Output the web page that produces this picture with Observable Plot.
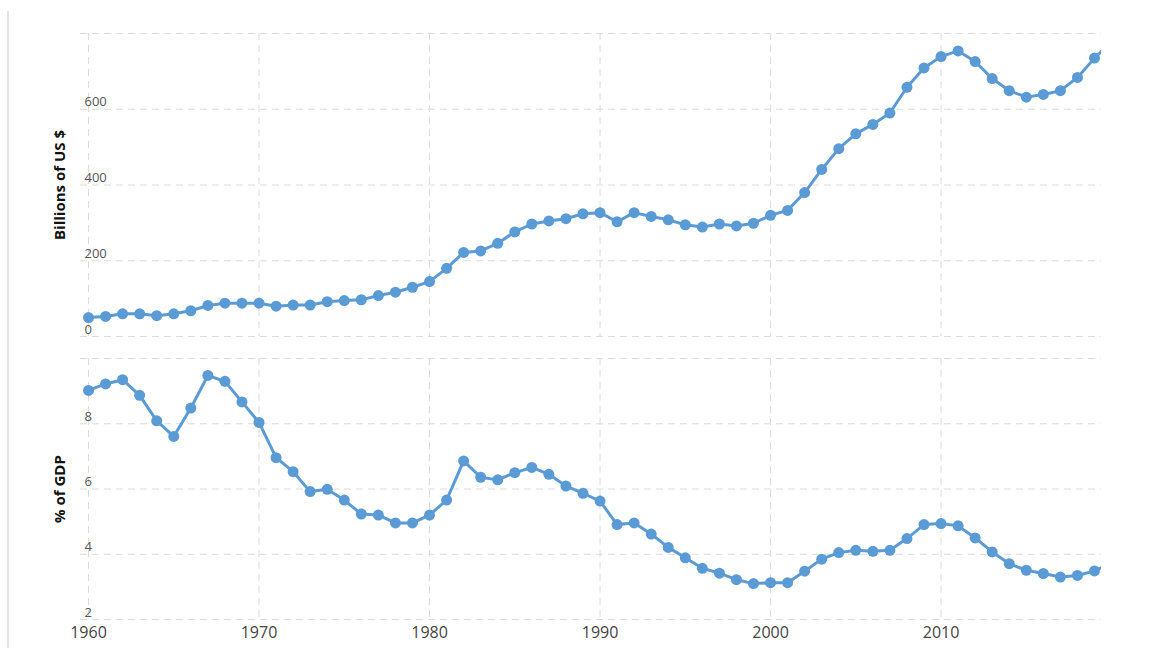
<!DOCTYPE html>
<html>
<head>
<meta charset="utf-8">
<script src="https://cdn.jsdelivr.net/npm/d3@7"></script>
<script src="https://cdn.jsdelivr.net/npm/@observablehq/plot@0.6"></script>
<style>
  html, body { margin: 0; padding: 0; background: #fff; }
  #wrap { position: relative; width: 1151px; height: 648px; overflow: hidden; font-family: "Open Sans", sans-serif; }
  #wrap svg { display: block; }
  #edge { position: absolute; left: 7px; top: 11px; width: 2px; height: 637px; background: #e4e4e4; }
</style>
</head>
<body>
<div id="wrap"><div id="edge"></div></div>
<script>
const years = d3.range(1960, 2021);
const billions = [
  50, 53, 60, 60, 55, 60, 68, 82, 88, 88,
  88, 80, 83, 83, 92, 95, 97, 108, 117, 130,
  145, 180, 222, 226, 246, 276, 297, 305, 311, 324,
  327, 303, 327, 317, 308, 295, 289, 297, 292, 299,
  320, 333, 380, 441, 496, 535, 560, 590, 658, 709,
  739, 754, 726, 681, 649, 632, 639, 649, 684, 735,
  778
];
const pctGdp = [
  9.02, 9.22, 9.35, 8.87, 8.09, 7.61, 8.48, 9.48, 9.30, 8.67,
  8.04, 6.96, 6.53, 5.92, 5.99, 5.66, 5.23, 5.20, 4.96, 4.96,
  5.20, 5.66, 6.86, 6.36, 6.28, 6.50, 6.66, 6.45, 6.09, 5.87,
  5.63, 4.91, 4.96, 4.62, 4.21, 3.89, 3.57, 3.42, 3.22, 3.10,
  3.13, 3.13, 3.48, 3.85, 4.05, 4.12, 4.09, 4.12, 4.48, 4.91,
  4.94, 4.87, 4.50, 4.07, 3.71, 3.51, 3.41, 3.30, 3.35, 3.49,
  3.73
];
const xTicks = [1960, 1970, 1980, 1990, 2000, 2010];
const topGrid = [0, 200, 400, 600, 800];
const topLabels = [0, 200, 400, 600];
const bottomGrid = [2, 4, 6, 8, 10];
const bottomLabels = [2, 4, 6, 8];
const topTitle = "Billions of US $";
const bottomTitle = "% of GDP";

const color = "#5b9bd5";
const gridColor = "#dcdcdc";
const xDomain = [1959.53, 2019.41];
const font = "'Open Sans', sans-serif";

const topData = years.map((y, i) => ({year: y, value: billions[i]}));
const bottomData = years.map((y, i) => ({year: y, value: pctGdp[i]}));

function panel({data, height, marginTop, marginBottom, yDomain, grid, labels, title, labelDy, showX}) {
  const marks = [
    Plot.gridY(grid, {stroke: gridColor, strokeOpacity: 1, strokeWidth: 1, strokeDasharray: "7,5"}),
    Plot.gridX(xTicks, {stroke: gridColor, strokeOpacity: 1, strokeWidth: 1, strokeDasharray: "7,5"}),
    Plot.text(labels, {y: d => d, text: d => String(d), frameAnchor: "left", textAnchor: "start",
      dx: 4, dy: labelDy, fill: "#555", fontSize: 13, fontFamily: font}),
    Plot.text([title], {text: d => d, frameAnchor: "left", textAnchor: "middle", dx: -20, rotate: -90,
      fill: "#111", fontSize: 15, fontWeight: "bold", fontFamily: font}),
    Plot.line(data, {x: "year", y: "value", stroke: color, strokeWidth: 3, clip: true}),
    Plot.dot(data, {x: "year", y: "value", r: 5.5, fill: color, stroke: "none", clip: true})
  ];
  if (showX) {
    marks.push(Plot.text(xTicks, {x: d => d, text: d => String(d), frameAnchor: "bottom", dy: 18,
      fill: "#444", fontSize: 16, fontFamily: font}));
  }
  return Plot.plot({
    width: 1151,
    height,
    marginLeft: 80,
    marginRight: 50,
    marginTop,
    marginBottom,
    style: {fontFamily: font, background: "transparent", overflow: "visible"},
    x: {domain: xDomain, axis: null},
    y: {domain: yDomain, axis: null},
    marks
  });
}

const wrap = document.getElementById("wrap");
wrap.appendChild(panel({data: topData, height: 346, marginTop: 33, marginBottom: 10,
  yDomain: [0, 800], grid: topGrid, labels: topLabels, title: topTitle, labelDy: -7, showX: false}));
wrap.appendChild(panel({data: bottomData, height: 302, marginTop: 12, marginBottom: 29,
  yDomain: [2, 10], grid: bottomGrid, labels: bottomLabels, title: bottomTitle, labelDy: -7, showX: true}));
</script>
</body>
</html>
